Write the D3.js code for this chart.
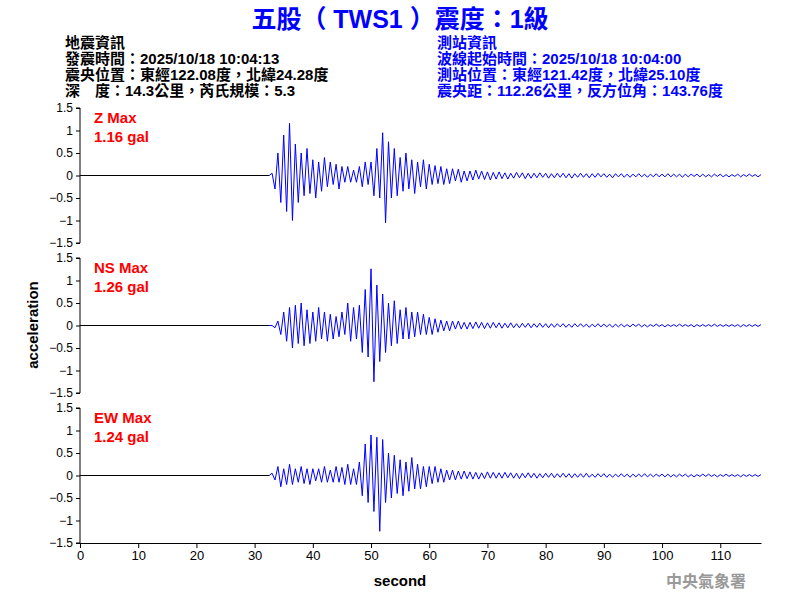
<!DOCTYPE html>
<html><head><meta charset="utf-8">
<script src="https://cdn.jsdelivr.net/npm/d3@7"></script>
<style>body{margin:0;background:#fff}text{font-family:Arial,"Liberation Sans","Noto Sans CJK TC",sans-serif}</style>
</head><body><svg id="c" width="800" height="600"></svg>
<script>
const startTime = 32.5, step = 0.5;
const zHead = [0,0.05,-0.3,0.5,-0.6,0.9,-0.8,1.16,-1.0,0.7,
  -0.6,0.5,-0.45,0.6,-0.4,0.35,-0.5,0.3,-0.35,0.4,
  -0.25,0.3,-0.2,0.25,-0.3,0.2,-0.15,0.2,-0.15,0.12,
  -0.15,0.2,-0.25,0.3,-0.2,0.3,-0.45,0.6,-0.5,0.95,
  -1.05,0.75,-0.5,0.6,-0.45,0.4,-0.35,0.5,-0.3,0.35,
  -0.4,0.3,-0.25,0.35,-0.3,0.25,-0.2,0.22,-0.18,0.2,
  -0.2,0.15,-0.18,0.15,-0.12,0.14,-0.15,0.1,-0.12,0.1,
  -0.1,0.12,-0.08,0.1,-0.09,0.08,-0.1,0.07,-0.08,0.08];
const zTail = [-0.07,0.06,-0.08,0.05,-0.06,0.07,-0.05,0.06,-0.07,0.05,
  -0.06,0.05,-0.05,0.06,-0.04,0.05,-0.06,0.04,-0.05,0.05,
  -0.04,0.05,-0.05,0.04,-0.06,0.04,-0.04,0.05,-0.04,0.04,
  -0.05,0.04,-0.04,0.05,-0.03,0.04,-0.04,0.03,-0.05,0.04,
  -0.03,0.04,-0.04,0.03,-0.04,0.03,-0.03,0.04,-0.03,0.03,
  -0.04,0.03,-0.03,0.04,-0.03,0.03,-0.03,0.04,-0.03,0.03,
  -0.03,0.03,-0.04,0.03,-0.03,0.03,-0.02,0.03,-0.03,0.03,
  -0.03,0.02,-0.03,0.03,-0.02,0.03,-0.03,0.02,-0.03,0.02,
  -0.02,0.03,-0.03,0.02,-0.02,0.03,-0.02,0.02,-0.03,0.02];
const nsHead = [0,0,-0.05,0.1,-0.2,0.3,-0.35,0.4,-0.5,0.45,
  -0.4,0.5,-0.45,0.35,-0.4,0.3,-0.35,0.4,-0.3,0.3,
  -0.35,0.25,-0.3,0.2,-0.25,0.3,-0.2,0.5,-0.35,0.4,
  -0.3,0.45,-0.6,0.8,-0.7,1.26,-1.25,0.9,-0.8,0.7,
  -0.6,0.5,-0.45,0.55,-0.4,0.35,-0.3,0.4,-0.3,0.3,
  -0.25,0.3,-0.2,0.25,-0.2,0.18,-0.2,0.15,-0.15,0.12,
  -0.12,0.1,-0.12,0.1,-0.08,0.1,-0.08,0.07,-0.08,0.07,
  -0.07,0.08,-0.06,0.07,-0.07,0.06,-0.06,0.07,-0.05,0.06];
const nsTail = [-0.06,0.05,-0.05,0.06,-0.05,0.04,-0.05,0.05,-0.04,0.05,
  -0.05,0.04,-0.04,0.05,-0.04,0.04,-0.05,0.04,-0.04,0.04,
  -0.03,0.04,-0.04,0.03,-0.04,0.04,-0.03,0.04,-0.03,0.03,
  -0.04,0.03,-0.03,0.04,-0.03,0.03,-0.03,0.03,-0.04,0.03,
  -0.03,0.03,-0.03,0.02,-0.03,0.03,-0.02,0.03,-0.03,0.02,
  -0.03,0.02,-0.02,0.03,-0.02,0.02,-0.03,0.02,-0.02,0.02,
  -0.02,0.03,-0.02,0.02,-0.02,0.02,-0.03,0.02,-0.02,0.02,
  -0.02,0.02,-0.02,0.03,-0.02,0.02,-0.02,0.02,-0.02,0.02,
  -0.02,0.02,-0.03,0.02,-0.02,0.02,-0.02,0.02,-0.02,0.02];
const ewHead = [0,0.05,-0.1,0.2,-0.25,0.15,-0.2,0.25,-0.2,0.15,
  -0.15,0.2,-0.18,0.15,-0.2,0.15,-0.12,0.15,-0.15,0.2,
  -0.15,0.12,-0.15,0.2,-0.15,0.18,-0.2,0.25,-0.2,0.15,
  -0.2,0.3,-0.45,0.7,-0.6,0.9,-0.8,0.85,-1.24,0.8,
  -0.6,0.5,-0.5,0.45,-0.4,0.35,-0.45,0.3,-0.35,0.4,
  -0.3,0.25,-0.3,0.2,-0.25,0.2,-0.18,0.2,-0.15,0.15,
  -0.15,0.12,-0.1,0.12,-0.1,0.1,-0.08,0.1,-0.07,0.08,
  -0.08,0.07,-0.08,0.06,-0.07,0.08,-0.06,0.07,-0.06,0.06];
const ewTail = [-0.06,0.07,-0.05,0.06,-0.06,0.05,-0.07,0.05,-0.05,0.06,
  -0.05,0.05,-0.06,0.04,-0.05,0.05,-0.04,0.05,-0.05,0.04,
  -0.04,0.05,-0.04,0.04,-0.05,0.04,-0.04,0.04,-0.04,0.05,
  -0.04,0.03,-0.04,0.04,-0.03,0.04,-0.04,0.03,-0.04,0.03,
  -0.03,0.04,-0.03,0.03,-0.04,0.03,-0.03,0.03,-0.03,0.04,
  -0.03,0.03,-0.03,0.03,-0.02,0.03,-0.03,0.03,-0.03,0.02,
  -0.03,0.03,-0.02,0.03,-0.03,0.02,-0.03,0.02,-0.02,0.03,
  -0.02,0.03,-0.02,0.02,-0.03,0.02,-0.02,0.03,-0.02,0.02,
  -0.02,0.02,-0.03,0.02,-0.02,0.02,-0.02,0.02,-0.02,0.02];

const channels = [
  {name: "Z Max", max: "1.16 gal", values: zHead.concat(zTail)},
  {name: "NS Max", max: "1.26 gal", values: nsHead.concat(nsTail)},
  {name: "EW Max", max: "1.24 gal", values: ewHead.concat(ewTail)}
];
const yTicks = [1.5, 1, 0.5, 0, -0.5, -1, -1.5];
const xTicks = [0,10,20,30,40,50,60,70,80,90,100,110];
const leftInfo = ["地震資訊","發震時間：2025/10/18 10:04:13","震央位置：東經122.08度，北緯24.28度","深　度：14.3公里，芮氏規模：5.3"];
const rightInfo = ["測站資訊","波線起始時間：2025/10/18 10:04:00","測站位置：東經121.42度，北緯25.10度","震央距：112.26公里，反方位角：143.76度"];

const svg = d3.select("#c");
svg.append("text").attr("x", 400).attr("y", 28).attr("text-anchor", "middle")
  .attr("fill", "#0000ff").attr("font-size", 25).attr("font-weight", "bold").text("五股（ TWS1 ）震度：1級");
leftInfo.forEach((t, i) => svg.append("text").attr("x", 65).attr("y", 48 + i * 16)
  .attr("font-size", 15).attr("font-weight", "bold").text(t));
rightInfo.forEach((t, i) => svg.append("text").attr("x", 437).attr("y", 48 + i * 16)
  .attr("font-size", 15).attr("font-weight", "bold").attr("fill", "#0000ff").text(t));

const x = d3.scaleLinear().domain([0, 117]).range([80, 761]);
const panelTop = [108, 258, 408], panelH = 135;

channels.forEach((ch, k) => {
  const y = d3.scaleLinear().domain([-1.5, 1.5]).range([panelTop[k] + panelH, panelTop[k]]);
  const g = svg.append("g");
  g.append("g").attr("transform", "translate(80,0)")
    .call(d3.axisLeft(y).tickValues(yTicks).tickSize(4).tickFormat(d3.format("")))
    .call(a => a.selectAll("text").attr("font-size", 12).attr("font-family", "Arial"))
    .call(a => a.select(".domain").attr("d", `M-4,${y(1.5)}H0V${y(-1.5)}H-4`));
  g.append("line").attr("x1", x(0)).attr("x2", x(startTime)).attr("y1", y(0)).attr("y2", y(0)).attr("stroke", "#000");
  const pts = ch.values.map((v, i) => [startTime + i * step, v]);
  g.append("path").datum(pts).attr("fill", "none").attr("stroke", "#0000ff").attr("stroke-width", 1)
    .attr("d", d3.line().x(d => x(d[0])).y(d => y(d[1])));
  g.append("text").attr("x", 94).attr("y", panelTop[k] + 15).attr("fill", "#ff0000")
    .attr("font-size", 15).attr("font-weight", "bold").text(ch.name);
  g.append("text").attr("x", 94).attr("y", panelTop[k] + 34).attr("fill", "#ff0000")
    .attr("font-size", 15).attr("font-weight", "bold").text(ch.max);
});

svg.append("g").attr("transform", "translate(0,543)")
  .call(d3.axisBottom(x).tickValues(xTicks).tickSize(5).tickSizeOuter(0))
  .call(a => a.selectAll("text").attr("font-size", 13).attr("font-family", "Arial"));
svg.append("text").attr("x", 400).attr("y", 586).attr("text-anchor", "middle").attr("font-size", 15)
  .attr("font-weight", "bold").text("second");
svg.append("text").attr("transform", "translate(38,325) rotate(-90)").attr("text-anchor", "middle")
  .attr("font-size", 15).attr("font-weight", "bold").text("acceleration");
svg.append("text").attr("x", 746).attr("y", 587).attr("text-anchor", "end").attr("font-size", 16)
  .attr("font-weight", "bold").attr("fill", "#999").text("中央氣象署");
</script></body></html>
